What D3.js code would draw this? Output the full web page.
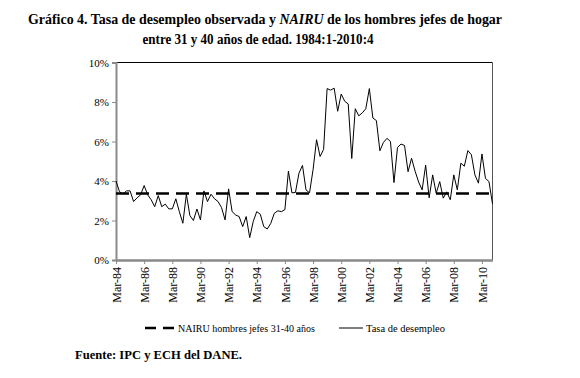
<!DOCTYPE html>
<html><head><meta charset="utf-8">
<script src="https://cdn.jsdelivr.net/npm/d3@7"></script>
<style>
body{margin:0;background:#fff;}
svg, svg text{font-family:"Liberation Serif","Times New Roman",Times,serif !important;}
</style></head>
<body><svg id="c" width="580" height="378"></svg>
<script>
const quarters = [];
for (let y = 1984; y <= 2010; y++) for (let q = 1; q <= 4; q++) quarters.push(y + ":" + q);
const desempleo = [
 4.0,3.45,3.35,3.5,3.5,2.96,3.15,3.3,3.77,3.3,3.05,2.7,3.26,2.7,2.83,2.59,
 2.59,3.1,2.45,1.86,3.33,2.25,2.0,2.58,2.03,3.5,2.96,3.33,3.1,2.96,2.65,2.03,
 3.6,2.45,2.28,2.2,1.69,2.2,1.13,1.95,2.45,2.32,1.69,1.57,1.86,2.37,2.49,2.45,
 2.55,4.5,3.4,3.42,4.4,4.79,3.55,3.4,4.57,6.09,5.24,5.6,8.68,8.6,8.7,7.53,
 8.4,8.04,7.9,5.14,7.66,7.3,7.45,7.66,8.68,7.19,7.06,5.53,5.95,6.16,6.0,3.92,
 5.7,5.87,5.8,4.47,5.15,4.5,3.95,3.55,4.8,3.15,4.31,3.38,3.97,3.13,3.45,3.05,
 4.31,3.55,4.9,4.75,5.54,5.33,4.31,3.89,5.37,4.13,3.97,2.84
];
const nairu = 3.37;
const yTicks = [0,2,4,6,8,10];
const xTickLabels = ["Mar-84","Mar-86","Mar-88","Mar-90","Mar-92","Mar-94","Mar-96","Mar-98","Mar-00","Mar-02","Mar-04","Mar-06","Mar-08","Mar-10"];
const titleLines = ["Gráfico 4. Tasa de desempleo observada y ", "NAIRU", " de los hombres jefes de hogar"];
const title2 = "entre 31 y 40 años de edad. 1984:1-2010:4";
const legendNames = ["NAIRU  hombres jefes 31-40 años", "Tasa de desempleo"];
const source = "Fuente: IPC y ECH del DANE.";

const FONT = "Liberation Serif";
const svg = d3.select("#c");
const L = 116, R = 492.5, T = 62.5, B = 260;
const x = d3.scalePoint().domain(quarters).range([L, R]);
const y = d3.scaleLinear().domain([0, 10]).range([B, T]);

// title
const t1 = svg.append("text").attr("x", 265).attr("y", 24).attr("text-anchor", "middle")
  .attr("font-family", FONT).attr("font-size", 14).attr("font-weight", "bold").attr("fill", "#000")
  .attr("textLength", 474).attr("lengthAdjust", "spacingAndGlyphs");
t1.append("tspan").text(titleLines[0]);
t1.append("tspan").attr("font-style", "italic").text(titleLines[1]);
t1.append("tspan").text(titleLines[2]);
svg.append("text").attr("x", 258).attr("y", 44).attr("text-anchor", "middle")
  .attr("font-family", FONT).attr("font-size", 14).attr("font-weight", "bold")
  .attr("textLength", 231).attr("lengthAdjust", "spacingAndGlyphs").text(title2);

// frame top and right
svg.append("line").attr("x1", L).attr("x2", R).attr("y1", T).attr("y2", T).attr("stroke", "#000").attr("stroke-width", 1);
svg.append("line").attr("x1", R).attr("x2", R).attr("y1", T).attr("y2", B).attr("stroke", "#555").attr("stroke-width", 1);

// y axis
const yAxis = svg.append("g").attr("transform", `translate(${L},0)`)
  .call(d3.axisLeft(y).tickValues(yTicks).tickSize(4).tickFormat(d => d + "%"));
yAxis.attr("font-family", FONT);
yAxis.select(".domain").attr("stroke", "#8a8a8a").attr("stroke-width", 2);
yAxis.selectAll(".tick line").attr("stroke", "#8a8a8a");
yAxis.selectAll(".tick text").attr("font-size", 11).attr("fill", "#000").attr("x", -7);

// x axis
const xTickVals = quarters.filter((q, i) => i % 8 === 0);
const xAxis = svg.append("g").attr("transform", `translate(0,${B})`)
  .call(d3.axisBottom(x).tickValues(xTickVals).tickSize(4).tickSizeOuter(0)
    .tickFormat((d, i) => xTickLabels[i]));
xAxis.attr("font-family", FONT);
xAxis.select(".domain").attr("stroke", "#8a8a8a").attr("stroke-width", 2.5);
xAxis.selectAll(".tick line").attr("stroke", "#8a8a8a");
xAxis.selectAll(".tick text").attr("font-size", 12).attr("fill", "#000")
  .attr("transform", "rotate(-90)").attr("text-anchor", "end").attr("x", -7).attr("y", 0).attr("dy", "0.35em");

// NAIRU
svg.append("line").attr("x1", L).attr("x2", R).attr("y1", y(nairu)).attr("y2", y(nairu))
  .attr("stroke", "#000").attr("stroke-width", 2.6).attr("stroke-dasharray", "13,7");

// series
const line = d3.line().x((d, i) => x(quarters[i])).y(d => y(d));
svg.append("path").datum(desempleo).attr("d", line).attr("fill", "none")
  .attr("stroke", "#000").attr("stroke-width", 1).attr("stroke-linejoin", "miter");

// legend
const ly = 328;
svg.append("line").attr("x1", 145).attr("x2", 174).attr("y1", ly).attr("y2", ly)
  .attr("stroke", "#000").attr("stroke-width", 2.6).attr("stroke-dasharray", "11,7");
svg.append("text").attr("x", 178).attr("y", ly + 3.5).attr("font-family", FONT).attr("font-size", 11).attr("textLength", 137).attr("lengthAdjust", "spacingAndGlyphs").text(legendNames[0]);
svg.append("line").attr("x1", 339).attr("x2", 363).attr("y1", ly).attr("y2", ly)
  .attr("stroke", "#000").attr("stroke-width", 1);
svg.append("text").attr("x", 366).attr("y", ly + 3.5).attr("font-family", FONT).attr("font-size", 11).attr("textLength", 79).attr("lengthAdjust", "spacingAndGlyphs").text(legendNames[1]);

// source
svg.append("text").attr("x", 75).attr("y", 359).attr("font-family", FONT).attr("font-size", 12.5).attr("font-weight", "bold")
  .attr("textLength", 167).attr("lengthAdjust", "spacingAndGlyphs").text(source);
</script></body></html>
